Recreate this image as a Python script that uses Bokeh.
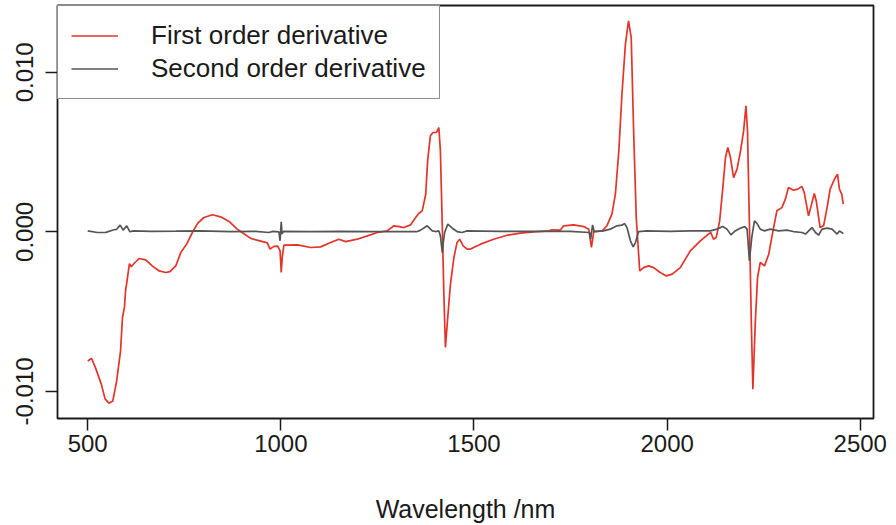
from bokeh.plotting import figure
from bokeh.models import Legend, LegendItem, FixedTicker, NumeralTickFormatter, Range1d
from bokeh.embed import file_html
from bokeh.resources import INLINE

# First order derivative (wavelength nm, value)
wl1 = [500, 510, 520, 535, 545, 555, 565, 575, 585, 590, 595, 598, 603, 608, 613, 618,
       633, 650, 667, 685, 702, 713, 728, 741, 756, 771, 785, 801, 823, 844, 866, 887,
       896, 922, 948, 965, 972, 982, 992, 998, 1001, 1004, 1008, 1043, 1077, 1103, 1129,
       1150, 1168, 1198, 1224, 1250, 1275, 1293, 1310, 1318, 1336, 1349, 1357, 1366, 1375,
       1380, 1387, 1394, 1403, 1409, 1413, 1418, 1422, 1426, 1432, 1439, 1448, 1456, 1463,
       1472, 1482, 1491, 1517, 1551, 1586, 1620, 1655, 1694, 1702, 1724, 1732, 1758, 1784,
       1797, 1804, 1810, 1832, 1844, 1857, 1866, 1875, 1883, 1892, 1900, 1907, 1913, 1920,
       1929, 1939, 1952, 1965, 1982, 1998, 2013, 2034, 2060, 2086, 2107, 2113, 2120, 2127,
       2136, 2145, 2151, 2157, 2164, 2172, 2181, 2190, 2198, 2204, 2208, 2213, 2218, 2222,
       2228, 2234, 2241, 2252, 2263, 2274, 2284, 2297, 2306, 2314, 2327, 2338, 2349, 2355,
       2366, 2375, 2381, 2386, 2396, 2405, 2414, 2422, 2433, 2441, 2446, 2452, 2456]
d1 = [-0.00809, -0.00794, -0.00851, -0.00953, -0.01047, -0.01074, -0.01060, -0.00934,
      -0.00746, -0.00537, -0.00475, -0.00370, -0.00287, -0.00199, -0.00219, -0.00203,
      -0.00167, -0.00176, -0.00213, -0.00245, -0.00255, -0.00249, -0.00213, -0.00130,
      -0.00077, -0.00004, 0.00055, 0.00090, 0.00107, 0.00094, 0.00065, 0.00017,
      0.00002, -0.00041, -0.00058, -0.00069, -0.00108, -0.00091, -0.00090, -0.00119,
      -0.00255, -0.00150, -0.00083, -0.00082, -0.00098, -0.00094, -0.00067,
      -0.00046, -0.00061, -0.00046, -0.00025, -0.00004, 0.00006, 0.00038, 0.00031,
      0.00027, 0.00044, 0.00090, 0.00115, 0.00132, 0.00236,
      0.00445, 0.00602, 0.00623, 0.00623, 0.00654, 0.00508, 0.00027, -0.00391, -0.00725,
      -0.00537, -0.00328, -0.00161, -0.00067, -0.00046,
      -0.00088, -0.00108, -0.00108, -0.00077, -0.00046, -0.00021, -0.00008, 0.00000,
      0.00006, 0.00013, 0.00011, 0.00038, 0.00044, 0.00033,
      0.00017, -0.00098, 0.00002, 0.00006, 0.00038, 0.00111, 0.00236, 0.00508, 0.00863,
      0.01177, 0.01323, 0.01218, 0.00654, 0.00090,
      -0.00245, -0.00224, -0.00213, -0.00224, -0.00255, -0.00276, -0.00265, -0.00224,
      -0.00119, -0.00056, -0.00014, -0.00004, -0.00046, -0.00036,
      0.00069, 0.00299, 0.00466, 0.00529, 0.00466, 0.00340, 0.00393, 0.00508, 0.00633,
      0.00790, 0.00633, 0.00048, -0.00579, -0.00986,
      -0.00579, -0.00287, -0.00192, -0.00213, -0.00140, 0.00006, 0.00132, 0.00152,
      0.00205, 0.00278, 0.00261, 0.00268, 0.00284, 0.00246,
      0.00100, 0.00184, 0.00240, 0.00194, 0.00027, 0.00038, 0.00152, 0.00268, 0.00330,
      0.00362, 0.00268, 0.00236, 0.00174]

# Second order derivative (wavelength nm, value)
wl2 = [500, 525, 547, 568, 575, 584, 592, 601, 609, 620, 663, 728, 792, 870, 935, 969,
       979, 995, 998, 1001, 1003, 1007, 1077, 1155, 1232, 1310, 1353, 1362, 1379, 1392,
       1400, 1409, 1413, 1418, 1421, 1424, 1432, 1444, 1456, 1469, 1482, 1568, 1672, 1749,
       1799, 1802, 1807, 1811, 1835, 1853, 1870, 1883, 1890, 1896, 1905, 1912, 1918, 1926,
       1948, 2008, 2060, 2112, 2129, 2144, 2155, 2165, 2176, 2189, 2201, 2207, 2213, 2219,
       2226, 2233, 2241, 2252, 2267, 2289, 2310, 2327, 2349, 2358, 2375, 2384, 2392, 2401,
       2414, 2427, 2440, 2446, 2452, 2456]
d2 = [0.00006, -0.00004, -0.00003, 0.00013, 0.00016, 0.00042, 0.00011, 0.00038, 0.00002,
      0.00006, 0.00003, 0.00004, 0.00006, 0.00002, 0.00003, -0.00004,
      0.00003, 0.00000, -0.00056, 0.00063, -0.00013, 0.00003, 0.00001, 0.00003, 0.00001,
      0.00001, 0.00002, 0.00011, 0.00038, 0.00006,
      0.00002, 0.00006, -0.00025, -0.00130, -0.00056, -0.00004, 0.00048, 0.00023, 0.00002,
      -0.00004, 0.00006, 0.00003, 0.00003, 0.00003,
      -0.00004, -0.00046, 0.00044, 0.00002, 0.00006, 0.00017, 0.00038, 0.00042, 0.00052,
      0.00027, -0.00056, -0.00094, -0.00067, 0.00002,
      0.00006, 0.00003, 0.00006, 0.00006, 0.00017, 0.00033, 0.00017, -0.00019, 0.00006,
      0.00023, 0.00033, 0.00017, -0.00182, -0.00036,
      0.00069, 0.00052, 0.00017, 0.00006, 0.00017, 0.00006, 0.00011, 0.00002, -0.00004,
      -0.00014, 0.00027, -0.00004, -0.00021, 0.00017,
      0.00023, 0.00017, -0.00014, 0.00006, -0.00004, -0.00011]

x_ticks = [500, 1000, 1500, 2000, 2500]
y_ticks = [-0.01, 0.0, 0.01]
series_names = ["First order derivative", "Second order derivative"]

FONT = "Liberation Sans"
INK = "#1a1a1a"

p = figure(width=896, height=525, output_backend="svg", toolbar_location=None,
           x_range=Range1d(421.8, 2534.2), y_range=Range1d(-0.01170, 0.01419),
           min_border_left=57, min_border_right=23, min_border_top=5, min_border_bottom=107)

r1 = p.line(wl1, d1, line_color="#e3342a", line_width=1.7)
r2 = p.line(wl2, d2, line_color="#555555", line_width=1.7)

p.xgrid.visible = False
p.ygrid.visible = False
p.background_fill_color = "white"
p.border_fill_color = "white"
p.outline_line_color = INK
p.outline_line_width = 1.8

for ax in (p.xaxis[0], p.yaxis[0]):
    ax.axis_line_color = None
    ax.major_tick_out = 12
    ax.major_tick_in = 0
    ax.minor_tick_line_color = None
    ax.major_tick_line_color = INK
    ax.major_tick_line_width = 1.5
    ax.major_label_text_font = FONT
    ax.major_label_text_font_size = "24px"
    ax.major_label_text_color = INK
    ax.axis_label_text_font = FONT
    ax.axis_label_text_font_size = "25px"
    ax.axis_label_text_font_style = "normal"
    ax.axis_label_text_color = INK

p.xaxis.ticker = FixedTicker(ticks=x_ticks)
p.yaxis.ticker = FixedTicker(ticks=y_ticks)
p.yaxis.formatter = NumeralTickFormatter(format="0.000")
p.yaxis.major_label_orientation = "vertical"
p.yaxis.major_label_standoff = 12
p.xaxis.major_label_standoff = 4
p.xaxis.axis_label = "Wavelength /nm"
p.xaxis.axis_label_standoff = 40

legend = Legend(items=[LegendItem(label=series_names[0], renderers=[r1]),
                       LegendItem(label=series_names[1], renderers=[r2])],
                location="top_left", margin=0, padding=13, spacing=0,
                glyph_width=47, glyph_height=33, label_height=33, label_standoff=33,
                label_text_font=FONT, label_text_font_size="26px", label_text_color=INK,
                border_line_color=INK, border_line_width=1.8,
                background_fill_color="white", background_fill_alpha=1.0)
p.add_layout(legend)

open("out.html", "w").write(file_html(p, INLINE))
